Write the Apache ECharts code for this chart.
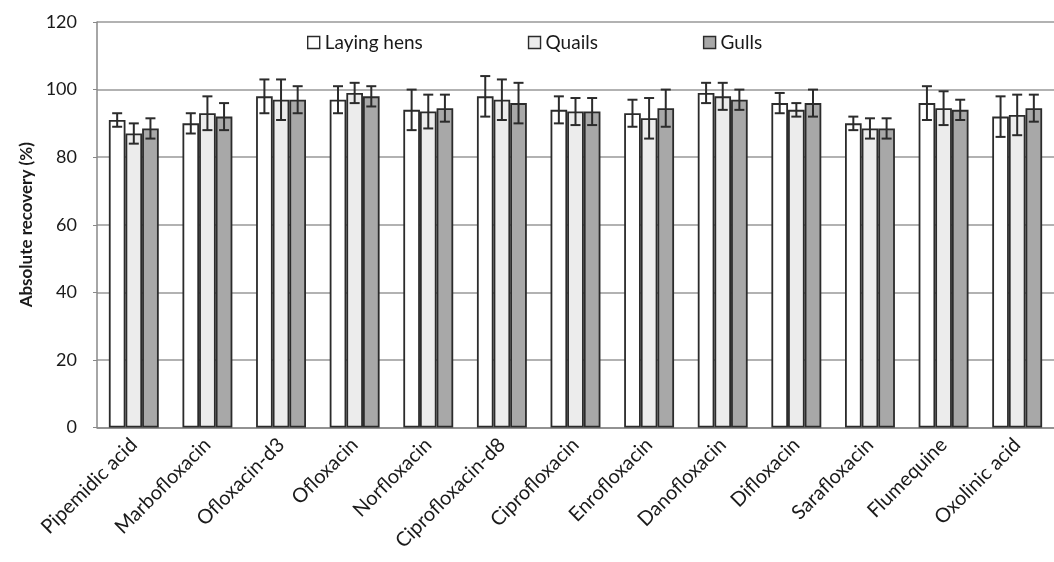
<!DOCTYPE html>
<html>
<head>
<meta charset="utf-8">
<script src="https://cdn.jsdelivr.net/npm/echarts@6/dist/echarts.min.js"></script>
<style>
  html, body { margin: 0; padding: 0; background: #fff; }
  #chart { width: 1054px; height: 562px; }
</style>
</head>
<body>
<div id="chart"></div>
<script>
// Absolute recovery of quinolones by bird species (mean ± SD, %)
const categories = ['Pipemidic acid', 'Marbofloxacin', 'Ofloxacin-d3', 'Ofloxacin', 'Norfloxacin',
  'Ciprofloxacin-d8', 'Ciprofloxacin', 'Enrofloxacin', 'Danofloxacin', 'Difloxacin',
  'Sarafloxacin', 'Flumequine', 'Oxolinic acid'];
const seriesNames = ['Laying hens', 'Quails', 'Gulls'];
const hensMean   = [91, 90, 98, 97, 94, 98, 94, 93, 99, 96, 90, 96, 92];
const hensSd     = [2, 3, 5, 4, 6, 6, 4, 4, 3, 3, 2, 5, 6];
const quailsMean = [87, 93, 97, 99, 93.5, 97, 93.5, 91.5, 98, 94, 88.5, 94.5, 92.5];
const quailsSd   = [3, 5, 6, 3, 5, 6, 4, 6, 4, 2, 3, 5, 6];
const gullsMean  = [88.5, 92, 97, 98, 94.5, 96, 93.5, 94.5, 97, 96, 88.5, 94, 94.5];
const gullsSd    = [3, 4, 4, 3, 4, 6, 4, 5.5, 3, 4, 3, 3, 4];
const yTicks = [0, 20, 40, 60, 80, 100, 120];

const means = [hensMean, quailsMean, gullsMean];
const sds = [hensSd, quailsSd, gullsSd];
const fills = ['#ffffff', '#ececec', '#a8a8a8'];
const BAR_FRAC = 0.226;
const FONT = 'Lato';

const series = [];
seriesNames.forEach((name, s) => {
  series.push({
    name: name,
    type: 'bar',
    data: means[s],
    barWidth: (BAR_FRAC * 100) + '%',
    barGap: '0%',
    itemStyle: { color: fills[s], borderColor: '#2b2b2b', borderWidth: 1.8 },
    z: 2
  });
});
seriesNames.forEach((name, s) => {
  const data = means[s].map((m, i) => [i, m - sds[s][i], m + sds[s][i]]);
  series.push({
    type: 'custom',
    name: name + ' SD',
    data: data,
    z: 5,
    silent: true,
    renderItem: function (params, api) {
      const idx = api.value(0);
      const lo = api.coord([idx, api.value(1)]);
      const hi = api.coord([idx, api.value(2)]);
      const band = api.size([1, 0])[0];
      const bw = band * BAR_FRAC;
      const x = lo[0] + (s - 1) * bw;
      const cap = 5;
      const style = { stroke: '#2b2b2b', lineWidth: 2 };
      return {
        type: 'group',
        children: [
          { type: 'line', shape: { x1: x, y1: lo[1], x2: x, y2: hi[1] }, style: style },
          { type: 'line', shape: { x1: x - cap, y1: hi[1], x2: x + cap, y2: hi[1] }, style: style },
          { type: 'line', shape: { x1: x - cap, y1: lo[1], x2: x + cap, y2: lo[1] }, style: style }
        ]
      };
    }
  });
});

const chart = echarts.init(document.getElementById('chart'), null, { renderer: 'canvas' });
chart.setOption({
  animation: false,
  backgroundColor: '#ffffff',
  textStyle: { fontFamily: FONT },
  legend: {
    data: seriesNames,
    left: 302,
    top: 28,
    itemWidth: 12,
    itemHeight: 12,
    itemGap: 105,
    icon: 'rect',
    itemStyle: { borderColor: '#2b2b2b', borderWidth: 1.4 },
    textStyle: { fontFamily: FONT, fontSize: 19, color: '#1a1a1a' }
  },
  grid: { left: 97, right: 0, top: 22, bottom: 134.5, containLabel: false },
  xAxis: {
    type: 'category',
    data: categories,
    axisLine: { lineStyle: { color: '#888', width: 1.5 } },
    axisTick: { show: false },
    axisLabel: { rotate: 45, interval: 0, margin: 14, fontFamily: FONT, fontSize: 20, color: '#1a1a1a' }
  },
  yAxis: {
    type: 'value',
    min: 0,
    max: 120,
    interval: 20,
    name: 'Absolute recovery (%)',
    nameLocation: 'middle',
    nameGap: 62,
    nameTextStyle: { fontFamily: FONT, fontSize: 17, fontWeight: 'bold', color: '#1a1a1a' },
    axisLine: { show: true, lineStyle: { color: '#888', width: 1.5 } },
    axisTick: { show: true, length: 4, lineStyle: { color: '#888' } },
    axisLabel: {
      margin: 20, fontFamily: FONT, fontSize: 18, color: '#1a1a1a',
      formatter: v => yTicks.includes(v) ? String(v) : ''
    },
    splitLine: { show: true, lineStyle: { color: '#999', width: 1.5 } }
  },
  series: series
});
</script>
</body>
</html>
